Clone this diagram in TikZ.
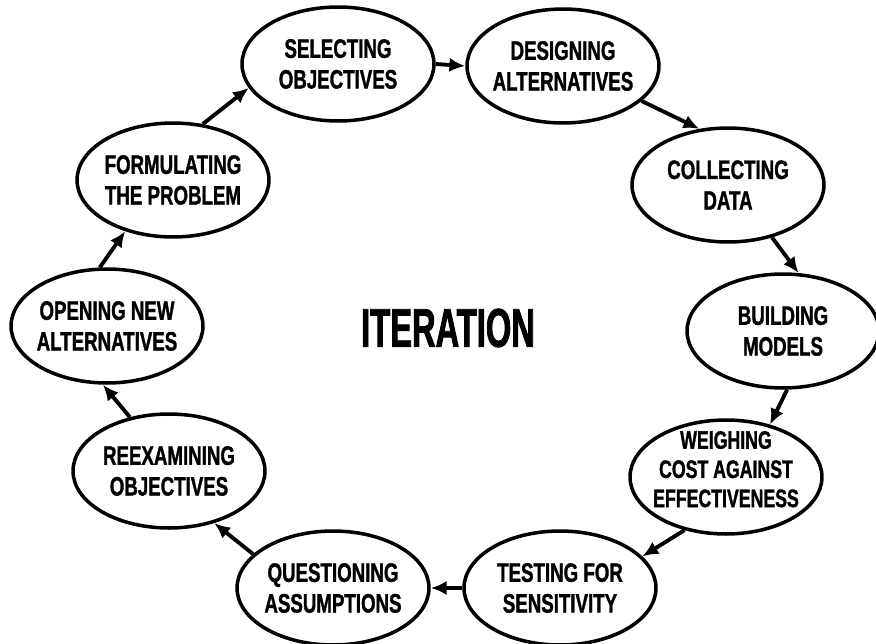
\documentclass[tikz,border=0pt]{standalone}
\usepackage{fontspec}
\setmainfont{Liberation Sans}[FakeStretch=0.7, BoldFeatures={FakeBold=1.2}]
\newfontfamily\titlefont{Liberation Sans}[FakeStretch=0.6, BoldFeatures={FakeBold=1.5}]
\usetikzlibrary{arrows.meta}
\usetikzlibrary{shapes.geometric}

\begin{document}
\begin{tikzpicture}[x=0.02cm, y=-0.02cm,
  stage/.style={draw, ellipse, line width=2pt, minimum width=3.84cm, minimum height=2.28cm,
    inner sep=-3pt, align=center, font=\bfseries\fontsize{15.2}{17.5}\selectfont},
  flow/.style={-{Latex[length=9pt,width=8pt]}, line width=2.2pt}]

\useasboundingbox (0,0) rectangle (876,643);

\node[stage] (form) at (173,180) {FORMULATING\\THE PROBLEM};
\node[stage] (sel) at (338,64) {SELECTING\\OBJECTIVES};
\node[stage] (des) at (563,66) {DESIGNING\\ALTERNATIVES};
\node[stage] (col) at (728,185) {COLLECTING\\DATA};
\node[stage] (bui) at (783,331) {BUILDING\\MODELS};
% three lines: sit a little high, and kept narrower
\node[stage, font=\bfseries\fontsize{14.4}{16.6}\selectfont, text depth=9pt, inner ysep=-8pt]
  (wei) at (726,477) {WEIGHING\\COST AGAINST\\EFFECTIVENESS};
\node[stage] (tes) at (560,588) {TESTING FOR\\SENSITIVITY};
\node[stage] (que) at (333,588) {QUESTIONING\\ASSUMPTIONS};
\node[stage] (ree) at (169,471) {REEXAMINING\\OBJECTIVES};
\node[stage] (ope) at (107,326) {OPENING NEW\\ALTERNATIVES};

\node[font=\titlefont\bfseries\fontsize{31}{31}\selectfont] (iter) at (448,328) {ITERATION};

% around the loop, clockwise
\draw[flow] (form.62) -- (sel.195);
\draw[flow] (sel.0) -- (des.180);
\draw[flow] (des.336) -- (col.117);
\draw[flow] (col.310) -- (bui.75);
\draw[flow] (bui.274) -- (wei.50);
\draw[flow] (wei.232) -- (tes.21);
\draw[flow] (tes.180) -- (que.0);
\draw[flow] (que.157) -- (ree.311);
\draw[flow] (ree.126) -- (ope.266);
\draw[flow] (ope.97) -- (form.227);

\end{tikzpicture}
\end{document}
